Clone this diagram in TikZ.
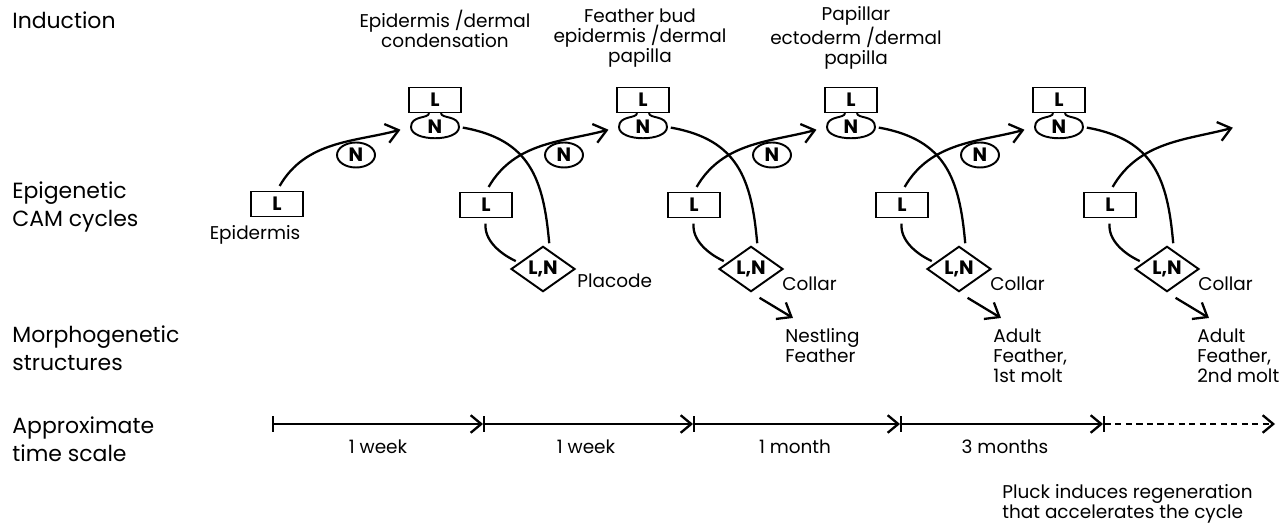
\documentclass[tikz,border=0pt]{standalone}
\usepackage{fontspec}
\setmainfont{Poppins}
\usepackage{tikz}
\usetikzlibrary{shapes.geometric,arrows.meta}
\tikzstyle{hdr}=[anchor=west,align=left,inner sep=0pt,
                 font=\fontsize{12.5}{16}\selectfont]
\tikzstyle{lbl}=[inner sep=0pt,font=\fontsize{10.5}{11.5}\selectfont]
\tikzstyle{lbox}=[draw,line width=1.1pt,inner sep=0pt,
                  minimum width=1.05cm,minimum height=0.5cm,
                  font=\fontsize{11}{11}\selectfont\bfseries]
\tikzstyle{nfree}=[ellipse,draw,line width=1.1pt,inner sep=0pt,
                   minimum width=0.76cm,minimum height=0.5cm,
                   font=\fontsize{11}{11}\selectfont\bfseries]
\tikzstyle{nbulb}=[inner sep=0pt,minimum width=0.96cm,minimum height=0.46cm,
                   font=\fontsize{11}{11}\selectfont\bfseries]
\tikzstyle{lndia}=[diamond,draw,line width=1.1pt,inner sep=0pt,
                   minimum width=1.28cm,minimum height=0.84cm,
                   font=\fontsize{11}{11}\selectfont\bfseries]
\tikzstyle{cyc}=[line width=1.3pt]
\tikzstyle{cycarr}=[line width=1.3pt,-{Straight Barb[length=7pt,width=11pt]}]
\tikzstyle{tseg}=[line width=1.3pt,
                  {Bar[width=9pt]}-{Straight Barb[length=6pt,width=10pt]}]

\begin{document}
\begin{tikzpicture}[x=0.2mm,y=0.2mm]
    \useasboundingbox (0,0) rectangle (1283,-525);
    \node[hdr] (hind) at (12,-20) {Induction};
    \node[hdr] (hcam) at (12,-207) {Epigenetic\\CAM cycles};
    \node[hdr] (hmor) at (12,-348) {Morphogenetic\\structures};
    \node[hdr] (htim) at (12,-439) {Approximate\\time scale};

    \node[lbl,align=center] (tcon) at (445,-29) {Epidermis /dermal\\condensation};
    \node[lbl,align=center] (tbud) at (640,-38) {Feather bud\\epidermis /dermal\\papilla};
    \node[lbl,align=center] (tpap) at (856,-38) {Papillar\\ectoderm /dermal\\papilla};

    \node[lbox] (lepi) at (277,-204) {L};
    \node[lbl] (tepi) at (255,-235) {Epidermis};

    \foreach \k in {0,...,3}{
        \pgfmathsetmacro{\dx}{208*\k}
        \node[lbox]  (ltop\k)  at ({435+\dx},-100) {L};
        \node[nbulb] (nbulb\k) at ({435+\dx},-127) {N};
        \node[nfree] (nfree\k) at ({356+\dx},-155) {N};
        \node[lbox]  (lmid\k)  at ({486+\dx},-205) {L};
        \node[lndia] (lnd\k)   at ({543+\dx},-269) {L,N};
        \draw[line width=1.1pt] ({429+\dx},-113)
            .. controls ({429+\dx},-119) and ({411+\dx},-115) .. ({411+\dx},-127)
            .. controls ({411+\dx},-142) and ({459+\dx},-142) .. ({459+\dx},-127)
            .. controls ({459+\dx},-115) and ({441+\dx},-119) .. ({441+\dx},-113);
        \draw[cyc,shorten <=2pt,shorten >=4pt] (nbulb\k.east)
            to[out=-10,in=95,looseness=1.2] (lnd\k.70);
        \draw[cyc,shorten <=3pt,shorten >=2pt] (lmid\k.south)
            to[out=-95,in=155] (lnd\k.165);
    }
    \coordinate (nend) at (1243,-125);
    \draw[cycarr,shorten <=3pt,shorten >=6pt] (lepi.north) to[out=60,in=195] (nbulb0.west);
    \draw[cycarr,shorten <=3pt,shorten >=6pt] (lmid0.north) to[out=60,in=195] (nbulb1.west);
    \draw[cycarr,shorten <=3pt,shorten >=6pt] (lmid1.north) to[out=60,in=195] (nbulb2.west);
    \draw[cycarr,shorten <=3pt,shorten >=6pt] (lmid2.north) to[out=60,in=195] (nbulb3.west);
    \draw[cycarr,shorten <=3pt,shorten >=6pt] (lmid3.north) to[out=60,in=195] (nend);

    \node[lbl,anchor=west] (tplc) at (577,-281) {Placode};
    \foreach \k in {1,2,3}{
        \pgfmathsetmacro{\dx}{208*(\k-1)}
        \node[lbl,anchor=west] (tcol\k) at ({782+\dx},-284) {Collar};
        \coordinate (mtip\k) at ({793+\dx},-318);
        \draw[cycarr,shorten <=0.2cm] (lnd\k.south) -- (mtip\k);
    }
    \node[lbl,anchor=north west,align=left] (mor1) at (785,-328) {Nestling\\Feather};
    \node[lbl,anchor=north west,align=left] (mor2) at (993,-328) {Adult\\Feather,\\1st molt};
    \node[lbl,anchor=north west,align=left] (mor3) at (1197,-328) {Adult\\Feather,\\2nd molt};

    \coordinate (t0) at (272,-424);
    \coordinate (t1) at (483,-424);
    \coordinate (t2) at (693,-424);
    \coordinate (t3) at (900,-424);
    \coordinate (t4) at (1103,-424);
    \coordinate (t5) at (1275,-424);
    \draw[tseg] (t0) -- (t1);
    \draw[tseg] (t1) -- (t2);
    \draw[tseg] (t2) -- (t3);
    \draw[tseg] (t3) -- (t4);
    \draw[tseg,dash pattern=on 3.5pt off 2.5pt] (t4) -- (t5);
    \node[lbl] (tw1) at (378,-447) {1 week};
    \node[lbl] (tw2) at (586,-447) {1 week};
    \node[lbl] (tm1) at (795,-447) {1 month};
    \node[lbl] (tm3) at (1005,-447) {3 months};
    \node[lbl,anchor=north west,align=left] (pluck) at (1002,-484)
        {Pluck induces regeneration\\that accelerates the cycle};
\end{tikzpicture}
\end{document}
